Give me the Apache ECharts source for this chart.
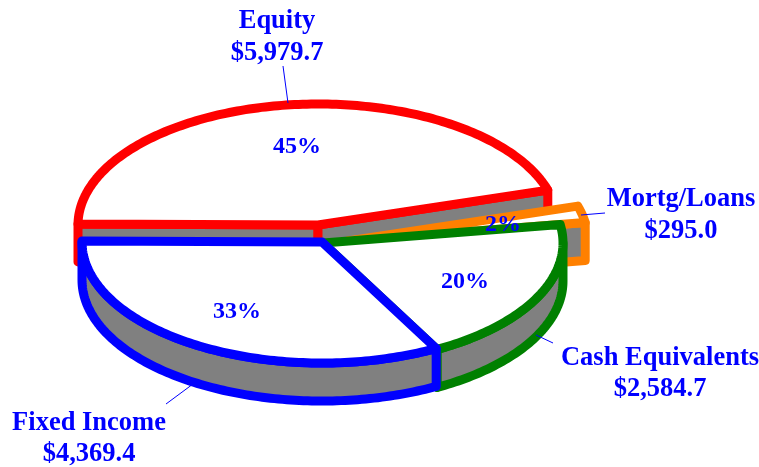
<!DOCTYPE html>
<html>
<head>
<meta charset="utf-8">
<style>
  html, body { margin: 0; padding: 0; background: #fff; }
  #chart { width: 759px; height: 467px; }
</style>
<script src="https://cdn.jsdelivr.net/npm/echarts@6/dist/echarts.min.js"></script>
</head>
<body>
<div id="chart"></div>
<script>
const categories = ['Equity', 'Mortg/Loans', 'Cash Equivalents', 'Fixed Income'];
const values = [5979.7, 295.0, 2584.7, 4369.4];

const sliceColors = ['#ff0000', '#ff8000', '#008000', '#0000ff'];
// exploded centre of each slice
const sliceCenters = [[318, 225], [348, 241], [323, 243], [322, 242]];
// name label centre x, first line y, second line y
const nameAnchors = [[277, 21, 53], [681, 199, 231], [660, 358, 389], [89, 423, 454]];
const pctAnchors = [[297, 147], [503, 225], [465, 282], [237, 312]];
// leader lines from label to pie
const leaders = [[[283, 66], [288, 103]], [[605, 213], [581, 215]], [[553, 343], [536, 335]], [[166, 404], [193, 384]]];

const RX = 240;
const RY = 121;
const DEPTH = 38;
const START_ANGLE = 180.5;
const STROKE = 9;
const TEXT_BLUE = '#0000ff';

const total = values.reduce((a, b) => a + b, 0);

function sliceAngles(idx) {
  let from = START_ANGLE;
  for (let i = 0; i < idx; i++) from += (values[i] / total) * 360;
  return [from, from + (values[idx] / total) * 360];
}

function rimPoint(c, deg, drop) {
  const t = (deg * Math.PI) / 180;
  return [c[0] + RX * Math.cos(t), c[1] + RY * Math.sin(t) + drop];
}

function arcPoints(c, a0, a1, drop) {
  const pts = [];
  const n = Math.max(2, Math.ceil(Math.abs(a1 - a0)));
  for (let i = 0; i <= n; i++) pts.push(rimPoint(c, a0 + ((a1 - a0) * i) / n, drop));
  return pts;
}

function poly(points, fill, color) {
  return {
    type: 'polygon',
    shape: { points },
    style: { fill, stroke: color, lineWidth: STROKE, lineJoin: 'round' }
  };
}

function cutFace(c, deg, color) {
  const p = rimPoint(c, deg, 0);
  return poly([c, p, [p[0], p[1] + DEPTH], [c[0], c[1] + DEPTH]], '#808080', color);
}

function renderSlice(params) {
  const i = params.dataIndex;
  const c = sliceCenters[i];
  const color = sliceColors[i];
  const [a0, a1] = sliceAngles(i);
  const cos = d => Math.cos((d * Math.PI) / 180);
  const children = [];

  // cut faces turned toward the viewer
  if (cos(a0) < 0) children.push(cutFace(c, a0, color));
  if (cos(a1) > 0) children.push(cutFace(c, a1, color));

  // outer wall, only the front half of the rim
  const wallFrom = Math.max(a0, 360);
  const wallTo = Math.min(a1, 540);
  if (wallTo > wallFrom) {
    const top = arcPoints(c, wallFrom, wallTo, 0);
    const bottom = arcPoints(c, wallFrom, wallTo, DEPTH).reverse();
    children.push(poly(top.concat(bottom), '#808080', color));
  }

  children.push(poly([c].concat(arcPoints(c, a0, a1, 0)), '#ffffff', color));
  return { type: 'group', children };
}

function label(text, x, y, size) {
  return {
    type: 'text',
    style: {
      text, x, y,
      fill: TEXT_BLUE,
      font: `bold ${size}px "Liberation Serif"`,
      align: 'center',
      verticalAlign: 'middle'
    }
  };
}

function renderLabel(params, api) {
  const i = params.dataIndex;
  const value = api.value(0);
  const money = '$' + value.toLocaleString('en-US', { minimumFractionDigits: 1, maximumFractionDigits: 1 });
  const pct = Math.round((value / total) * 100) + '%';
  const [nx, y1, y2] = nameAnchors[i];
  const [l0, l1] = leaders[i];
  return {
    type: 'group',
    children: [
      {
        type: 'line',
        shape: { x1: l0[0], y1: l0[1], x2: l1[0], y2: l1[1] },
        style: { stroke: TEXT_BLUE, lineWidth: 1 }
      },
      label(categories[i], nx, y1, 26.5),
      label(money, nx, y2, 26.5),
      label(pct, pctAnchors[i][0], pctAnchors[i][1], 24)
    ]
  };
}

const chart = echarts.init(document.getElementById('chart'));
chart.setOption({
  animation: false,
  backgroundColor: '#ffffff',
  series: [
    { type: 'custom', coordinateSystem: 'none', renderItem: renderSlice, data: values, z: 2, silent: true },
    { type: 'custom', coordinateSystem: 'none', renderItem: renderLabel, data: values, z: 3, silent: true }
  ]
});
</script>
</body>
</html>
